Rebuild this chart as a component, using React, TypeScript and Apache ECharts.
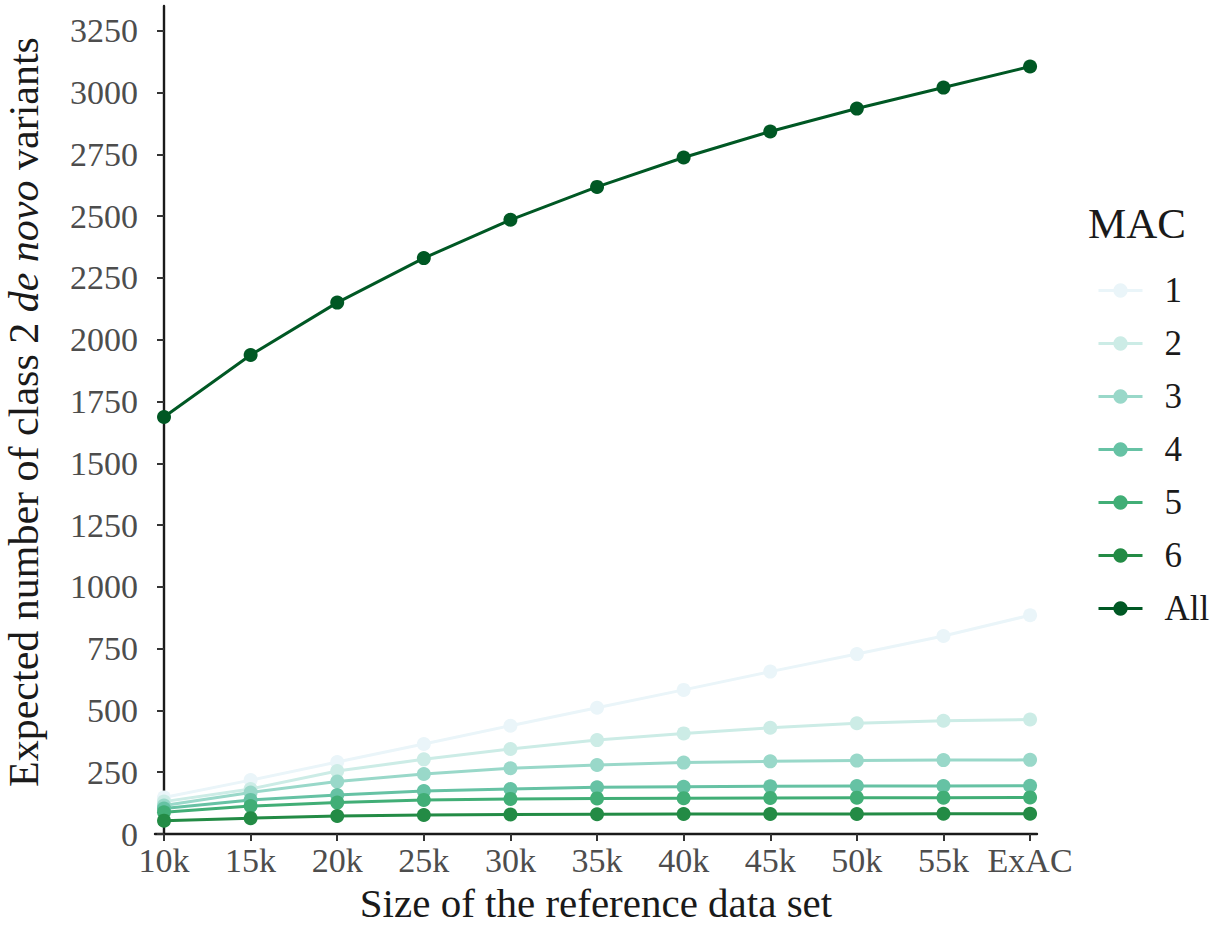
import React, { useEffect, useRef } from "react";
import * as echarts from "echarts";

const categories = ["10k", "15k", "20k", "25k", "30k", "35k", "40k", "45k", "50k", "55k", "ExAC"];
const seriesNames = ["1", "2", "3", "4", "5", "6", "All"];
const mac1 = [148, 218, 291, 364, 438, 511, 583, 657, 728, 801, 885];
const mac2 = [131, 182, 255, 302, 344, 380, 407, 430, 448, 458, 463];
const mac3 = [115, 168, 212, 243, 266, 279, 289, 294, 297, 299, 300];
const mac4 = [103, 138, 158, 174, 182, 189, 191, 193, 194, 194, 195];
const mac5 = [88, 113, 127, 138, 142, 144, 145, 146, 147, 147, 148];
const mac6 = [54, 64, 73, 77, 79, 80, 81, 81, 81, 82, 82];
const macAll = [1687, 1938, 2150, 2330, 2485, 2618, 2737, 2842, 2935, 3020, 3105];
const colors = ["#eaf5f9", "#ccece6", "#99d8c9", "#66c2a4", "#41ae76", "#238b45", "#005824"];
const yTicks = [0, 250, 500, 750, 1000, 1250, 1500, 1750, 2000, 2250, 2500, 2750, 3000, 3250];
const xTicks = [0, 1, 2, 3, 4, 5, 6, 7, 8, 9, 10];

const allData = [mac1, mac2, mac3, mac4, mac5, mac6, macAll];
const FONT = "Liberation Serif";

export default function App() {
  const ref = useRef<HTMLDivElement>(null);
  useEffect(() => {
    if (!ref.current) return;
    const chart = echarts.init(ref.current, null, { renderer: "svg" });
    chart.setOption({
      animation: false,
      backgroundColor: "#ffffff",
      textStyle: { fontFamily: FONT },
      grid: { left: 155, right: 182, top: 6, bottom: 92, containLabel: false, outerBoundsMode: "none" },
      legend: {
        orient: "vertical",
        left: 1092,
        top: 268,
        itemWidth: 44,
        itemHeight: 18,
        itemGap: 18,
        data: seriesNames,
        lineStyle: { width: 3 },
        textStyle: { fontFamily: FONT, fontSize: 35, color: "#1a1a1a", lineHeight: 35, padding: [0, 0, 0, 17] },
      },
      graphic: [
        {
          type: "text",
          left: 1088,
          top: 202,
          style: { text: "MAC", font: `43px "${FONT}"`, fill: "#1a1a1a" },
        },
      ],
      xAxis: {
        type: "value",
        min: -0.104,
        max: 10.08,
        name: "Size of the reference data set",
        nameLocation: "middle",
        nameGap: 48,
        nameTextStyle: { fontFamily: FONT, fontSize: 41, color: "#1a1a1a" },
        axisLine: { show: true, lineStyle: { color: "#1a1a1a", width: 2.4 } },
        axisTick: { show: true, length: 7, lineStyle: { color: "#333", width: 2 }, customValues: xTicks },
        axisLabel: {
          customValues: xTicks,
          margin: 9,
          fontFamily: FONT,
          fontSize: 34,
          color: "#4d4d4d",
          formatter: (v: number) => categories[Math.round(v)] ?? "",
        },
        splitLine: { show: false },
      },
      yAxis: {
        type: "value",
        min: 0,
        max: 3350,
        name: "{n|Expected number of class 2 }{i|de novo}{n| variants}",
        nameLocation: "middle",
        nameRotate: 90,
        nameGap: 110,
        nameTextStyle: {
          fontFamily: FONT,
          fontSize: 42,
          color: "#1a1a1a",
          padding: [0, 0, 0, 16],
          rich: {
            n: { fontFamily: FONT, fontSize: 42, color: "#1a1a1a" },
            i: { fontFamily: FONT, fontSize: 42, color: "#1a1a1a", fontStyle: "italic" },
          },
        },
        axisLine: { show: true, lineStyle: { color: "#1a1a1a", width: 2.4 } },
        axisTick: { show: true, length: 7, lineStyle: { color: "#333", width: 2 }, customValues: yTicks },
        axisLabel: {
          customValues: yTicks,
          margin: 17,
          fontFamily: FONT,
          fontSize: 34,
          color: "#4d4d4d",
          formatter: (v: number) => String(v),
        },
        splitLine: { show: false },
      },
      series: seriesNames.map((name, i) => ({
        name,
        type: "line",
        data: allData[i].map((v, j) => [j, v]),
        symbol: "circle",
        symbolSize: 14,
        showSymbol: true,
        color: colors[i],
        lineStyle: { width: 3, color: colors[i] },
        itemStyle: { color: colors[i] },
        z: 2 + i,
      })),
    });
    return () => chart.dispose();
  }, []);
  return <div ref={ref} style={{ position: "fixed", left: 0, top: 0, width: 1219, height: 926 }} />;
}
